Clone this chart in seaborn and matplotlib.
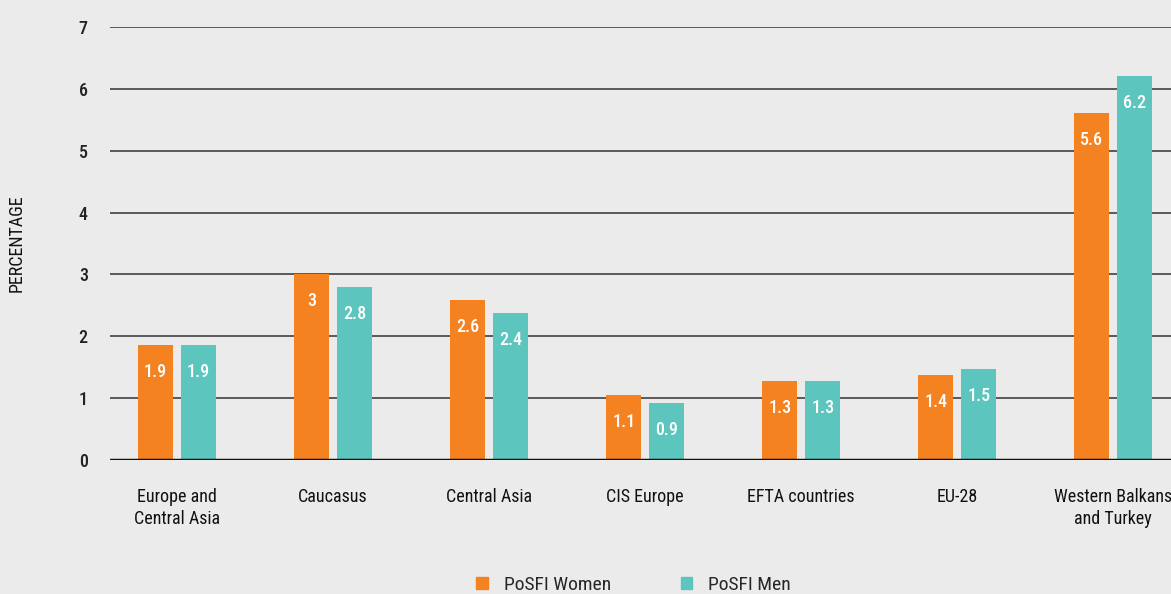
import numpy as np
import matplotlib
matplotlib.use("Agg")
import matplotlib.pyplot as plt
from matplotlib import font_manager
import pandas as pd
import seaborn as sns

regions = ['Europe and\nCentral Asia', 'Caucasus', 'Central Asia', 'CIS Europe',
           'EFTA countries', 'EU-28', 'Western Balkans\nand Turkey']
women = [1.86, 3.01, 2.59, 1.05, 1.28, 1.37, 5.61]
men = [1.86, 2.80, 2.38, 0.92, 1.28, 1.47, 6.21]
women_labels = ['1.9', '3', '2.6', '1.1', '1.3', '1.4', '5.6']
men_labels = ['1.9', '2.8', '2.4', '0.9', '1.3', '1.5', '6.2']
series = ['PoSFI Women', 'PoSFI Men']
colors = ['#F58220', '#5BC5BE']

df = pd.DataFrame({
    'region': regions * 2,
    'value': women + men,
    'group': [series[0]] * len(regions) + [series[1]] * len(regions),
})

sns.set_style('white')
names = {f.name for f in font_manager.fontManager.ttflist}
cond = [n for n in ['Liberation Sans Narrow', 'DejaVu Sans Condensed', 'Roboto Condensed',
                    'Open Sans Condensed'] if n in names]
plt.rcParams['font.family'] = cond + ['DejaVu Sans']
plt.rcParams['font.stretch'] = 'condensed'
bg = '#ebebeb'

fig = plt.figure(figsize=(11.71, 5.94), dpi=100, facecolor=bg)
ax = fig.add_axes([110 / 1171, 1 - 460 / 594, 1 - 110 / 1171, 433 / 594])
ax.set_facecolor(bg)

sns.barplot(data=df, x='region', y='value', hue='group', palette=colors,
            width=0.551, gap=0.19, ax=ax, legend=False, saturation=1, linewidth=0)

ax.set_ylim(0, 7)
ax.set_xlim(-0.43, 6.37)
ax.set_yticks(range(8))
for y in range(1, 8):
    ax.axhline(y, color='#333333', lw=1.1, zorder=0)
ax.axhline(0, color='#111111', lw=2.5, zorder=3)
for s in ax.spines.values():
    s.set_visible(False)

ax.tick_params(axis='y', length=0, pad=16, labelsize=13)
ax.tick_params(axis='x', length=0, pad=20, labelsize=13)
for t in ax.get_yticklabels():
    t.set_color('#222222')
    t.set_fontweight('medium')
for t in ax.get_xticklabels():
    t.set_color('#111111')
    t.set_linespacing(1.3)
ax.set_xlabel('')
ax.set_ylabel('PERCENTAGE', fontsize=13, color='#111111')
ax.yaxis.set_label_coords(-84 / 1061, 0.5)

for cont, labs in zip(ax.containers, [women_labels, men_labels]):
    ax.bar_label(cont, labels=labs, label_type='edge', padding=-26,
                 color='white', fontsize=13, fontweight='medium')

handles = [plt.Rectangle((0, 0), 1, 1, color=c) for c in colors]
fig.legend(handles, series, loc='center', bbox_to_anchor=(0.541, 9 / 594),
           ncol=2, frameon=False, fontsize=14, handlelength=0.6, handleheight=0.6,
           columnspacing=3.6, handletextpad=0.8)

fig.savefig('out.png', dpi=100, facecolor=bg)
